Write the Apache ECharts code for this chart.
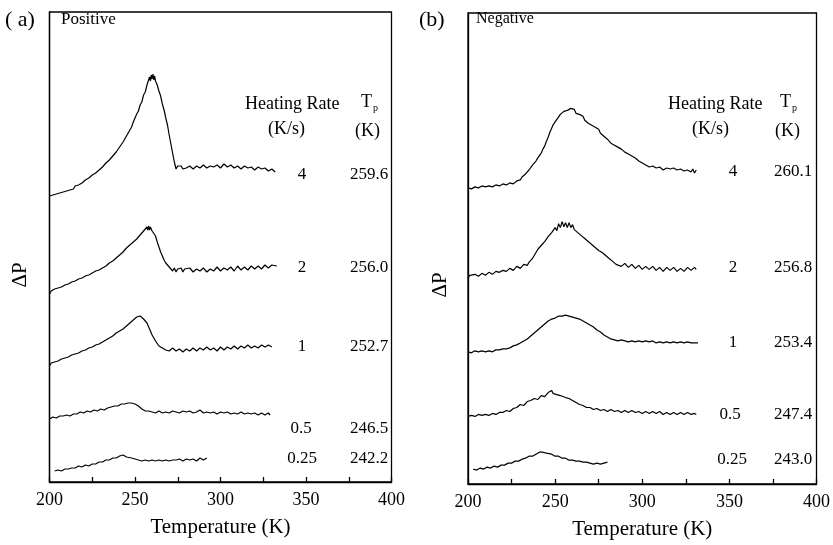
<!DOCTYPE html>
<html><head><meta charset="utf-8">
<script src="https://cdn.jsdelivr.net/npm/echarts@6/dist/echarts.min.js"></script>
<style>html,body{margin:0;padding:0;background:#fff}#c{width:833px;height:545px}</style>
</head><body><div id="c"></div>
<script>
// Panel (a) Positive: [Temperature (K), ΔP (arb. units, offset traces)]
var posRate4 = [[200,286],[201,288],[202,287],[203,289],[204,288],[205,290],[206,289],[207,291],[208,290],[209,292],[210,291],[211,293],[212,292],[213,294],[214,293],[215,296],[216,295],[217,297],[218,296],[219,299],[220,299],[221,302],[222,301],[223,304],[224,304],[225,307],[226,306],[227,309],[228,309],[229,312],[230,312],[231,315],[232,315],[233,319],[234,318],[235,322],[236,322],[237,326],[238,326],[239,330],[240,331],[241,335],[242,335],[243,340],[244,341],[245,346],[246,347],[247,352],[248,355],[249,360],[250,362],[251,368],[252,371],[253,377],[254,380],[255,387],[256,390],[257,397],[258,399],[258.5,405],[259,401],[259.5,407],[260,403],[260.5,408],[261,402],[261.5,406],[262,401],[263,397],[264,391],[265,386],[266,378],[267,372],[268,364],[269,357],[270,347],[271,338],[272,329],[273,320],[274,313],[275,316],[276,314],[277,316],[278,313],[279,315],[280,314],[282,316],[284,313],[286,316],[288,314],[290,317],[292,314],[294,316],[296,315],[298,317],[300,314],[302,318],[304,315],[306,317],[308,314],[310,316],[312,313],[314,316],[316,314],[318,315],[320,312],[322,315],[324,313],[326,314],[328,311],[330,313],[332,310]];
var posRate2 = [[200,188],[201,191],[202,189],[203,193],[204,191],[205,194],[206,192],[207,195],[208,194],[209,197],[210,195],[211,198],[212,197],[213,200],[214,198],[215,201],[216,200],[217,203],[218,201],[219,204],[220,203],[221,206],[222,204],[223,207],[224,206],[225,209],[226,208],[227,211],[228,209],[229,212],[230,211],[231,214],[232,213],[233,216],[234,215],[235,219],[236,217],[237,221],[238,220],[239,224],[240,222],[241,227],[242,226],[243,230],[244,229],[245,234],[246,232],[247,237],[248,235],[249,240],[250,239],[251,243],[252,242],[253,247],[254,246],[255,251],[256,250],[257,255],[257.5,252],[258,256],[258.5,252],[259,255],[260,251],[261,250],[262,246],[263,240],[264,235],[265,230],[266,226],[267,222],[268,219],[269,217],[270,215],[271,214],[272,211],[273,214],[274,210],[275,213],[276,211],[277,214],[278,210],[279,213],[280,211],[282,214],[284,210],[286,213],[288,211],[290,214],[292,210],[294,213],[296,211],[298,215],[300,211],[302,214],[304,212],[306,215],[308,211],[310,216],[312,212],[314,215],[316,212],[318,216],[320,213],[322,216],[324,213],[326,217],[328,214],[330,217],[333,216]];
var posRate1 = [[200,116],[201,119],[202,117],[203,120],[204,119],[205,121],[206,120],[207,123],[208,121],[209,124],[210,123],[211,125],[212,124],[213,127],[214,125],[215,128],[216,127],[217,129],[218,128],[219,131],[220,129],[221,132],[222,131],[223,134],[224,132],[225,135],[226,134],[227,137],[228,135],[229,138],[230,137],[231,140],[232,139],[233,142],[234,141],[235,144],[236,143],[237,146],[238,145],[239,149],[240,147],[241,151],[242,150],[243,153],[244,153],[245,156],[246,156],[247,159],[248,159],[249,162],[250,162],[251,165],[252,164],[253,166],[254,164],[255,163],[256,161],[257,159],[258,155],[259,151],[260,147],[261,144],[262,141],[263,139],[264,136],[265,137],[266,134],[267,135],[268,132],[269,134],[270,131],[272,134],[274,131],[276,133],[278,130],[280,133],[282,131],[284,134],[286,131],[288,134],[290,132],[292,135],[294,132],[296,134],[298,131],[300,135],[302,132],[304,135],[306,133],[308,136],[310,133],[312,136],[314,134],[316,137],[318,134],[320,136],[322,134],[324,137],[326,135],[328,137],[330,135]];
var posRate05 = [[200,63],[202,65],[204,64],[206,66],[208,66],[210,67],[212,66],[214,68],[216,68],[218,70],[220,69],[222,71],[224,70],[226,72],[228,71],[230,73],[232,72],[234,74],[236,75],[238,76],[240,76],[242,78],[244,78],[245,80],[246,79],[247,80],[248,79],[249,79],[250,78],[251,77],[252,76],[253,74],[254,73],[255,72],[256,71],[257,70],[258,71],[259,69],[260,70],[262,69],[264,71],[266,69],[268,70],[270,69],[272,71],[274,70],[276,69],[278,71],[280,70],[282,71],[284,69],[286,70],[288,72],[290,69],[292,70],[294,69],[296,70],[298,68],[300,70],[302,69],[304,70],[306,68],[308,69],[310,68],[312,70],[314,68],[316,69],[318,68],[320,69],[322,67],[324,69],[326,67],[328,69],[329,67]];
var posRate025 = [[203,11],[205,12],[207,11],[209,13],[211,13],[213,14],[215,14],[217,16],[219,15],[221,17],[223,16],[225,18],[227,18],[229,20],[231,20],[233,22],[235,22],[237,24],[239,24],[241,26],[242,26],[243,27],[244,26],[245,25],[246,25],[248,24],[250,23],[252,22],[254,21],[256,22],[258,21],[260,22],[262,21],[264,22],[266,21],[268,22],[270,21],[272,22],[274,22],[276,23],[278,21],[280,23],[282,22],[284,23],[286,21],[288,24],[290,22],[292,24]];

// Panel (b) Negative
var negRate4 = [[200,298],[202,297],[204,299],[206,298],[208,300],[210,299],[212,300],[214,299],[216,301],[218,300],[220,302],[222,301],[224,303],[226,302],[228,305],[230,306],[231,309],[232,308],[233,312],[234,313],[235,316],[236,318],[237,321],[238,323],[239,325],[240,328],[241,330],[242,333],[243,337],[244,340],[245,345],[246,349],[247,354],[248,358],[249,362],[250,364],[251,367],[252,369],[253,372],[254,373],[255,375],[256,374],[257,376],[258,377],[259,378],[260,376],[261,377],[262,373],[263,375],[264,372],[265,373],[266,370],[267,366],[268,367],[269,363],[270,363],[271,361],[272,362],[273,359],[274,358],[275,357],[276,353],[277,354],[278,350],[279,350],[280,347],[281,347],[282,343],[283,344],[284,341],[285,341],[286,339],[287,339],[288,337],[289,338],[290,334],[291,335],[292,332],[293,332],[294,330],[295,330],[296,328],[297,327],[298,325],[299,326],[300,323],[301,324],[302,321],[303,322],[304,319],[306,320],[308,318],[310,319],[312,316],[314,318],[316,317],[318,318],[320,316],[322,317],[324,315],[326,316],[328,314],[329,317],[330,313],[331,316]];
var negRate2 = [[200,207],[201,210],[202,208],[204,211],[206,209],[208,212],[210,210],[212,213],[214,211],[216,214],[218,213],[220,215],[222,214],[224,217],[226,215],[228,219],[230,217],[232,221],[234,220],[235,223],[236,225],[237,227],[238,230],[239,232],[240,236],[241,235],[242,240],[243,239],[244,244],[245,243],[246,249],[247,247],[248,253],[249,251],[250,258],[251,255],[252,262],[253,258],[254,264],[255,259],[256,263],[257,258],[258,263],[259,258],[260,261],[261,256],[262,258],[263,253],[264,255],[265,250],[266,252],[267,247],[268,249],[269,244],[270,246],[271,241],[272,243],[273,238],[274,240],[275,235],[276,237],[277,233],[278,234],[279,230],[280,231],[281,227],[282,228],[283,224],[284,225],[285,221],[286,223],[288,219],[290,222],[292,218],[294,221],[296,217],[298,220],[300,216],[302,219],[304,216],[306,219],[308,215],[310,218],[312,214],[314,218],[316,215],[318,218],[320,214],[322,217],[324,214],[326,218],[328,215],[330,218],[331,216]];
var negRate1 = [[200,133],[202,132],[204,134],[206,133],[208,134],[210,133],[212,134],[214,133],[216,135],[218,135],[220,136],[222,136],[224,137],[226,139],[228,140],[230,142],[232,144],[234,146],[236,149],[238,152],[240,155],[242,158],[244,161],[246,164],[248,166],[250,167],[252,169],[254,169],[256,170],[258,169],[260,168],[262,167],[264,166],[266,164],[268,162],[270,160],[272,158],[274,155],[276,153],[278,150],[280,148],[282,146],[284,145],[286,144],[288,145],[290,144],[292,143],[294,144],[296,143],[298,144],[300,143],[302,144],[304,143],[306,144],[308,142],[310,143],[312,142],[314,143],[316,142],[318,143],[320,142],[322,143],[324,142],[326,143],[328,142],[330,142],[332,142]];
var negRate05 = [[200,68],[202,69],[204,68],[206,70],[208,69],[210,70],[212,69],[214,71],[216,70],[218,72],[220,72],[222,74],[224,73],[226,76],[228,77],[230,80],[232,79],[234,83],[236,84],[238,86],[240,85],[242,89],[244,88],[246,92],[247,90],[248,94],[249,91],[250,93],[251,90],[252,92],[253,89],[254,90],[256,87],[258,86],[260,84],[262,82],[264,80],[266,79],[268,77],[270,77],[272,75],[274,76],[276,74],[278,75],[280,73],[282,75],[284,73],[286,74],[288,72],[290,74],[292,72],[294,74],[296,72],[298,73],[300,71],[302,73],[304,71],[306,73],[308,71],[310,73],[312,70],[314,72],[316,70],[318,72],[320,70],[322,72],[324,70],[326,72],[328,70],[330,71],[331,70]];
var negRate025 = [[203,15],[205,14],[207,16],[209,15],[211,17],[213,16],[215,18],[217,17],[219,19],[221,19],[223,21],[225,21],[227,23],[229,23],[231,25],[233,26],[235,28],[237,28],[239,30],[240,29],[241,32],[242,30],[243,32],[244,30],[245,31],[246,29],[248,30],[250,28],[252,28],[254,26],[256,26],[258,24],[260,24],[262,23],[264,23],[266,22],[268,22],[270,21],[272,20],[274,21],[276,20],[278,21],[280,22]];

var rateLabels = ['4','2','1','0.5','0.25'];
var posTp = ['259.6','256.0','252.7','246.5','242.2'];
var negTp = ['260.1','256.8','253.4','247.4','243.0'];
var xTicks = [200, 250, 300, 350, 400];

var FONT = '"Liberation Serif","DejaVu Serif",serif';
var chart = echarts.init(document.getElementById('c'), null, {renderer:'canvas'});

function xAx(gi){
  return {
    gridIndex: gi, type:'value', min: xTicks[0], max: xTicks[xTicks.length-1], interval: 50,
    name: 'Temperature (K)', nameLocation:'middle', nameGap: 35,
    nameTextStyle:{fontFamily:FONT, fontSize:21, color:'#000'},
    axisLine:{show:true, lineStyle:{color:'#000', width:1.3}},
    axisTick:{show:true, inside:true, length:5, lineStyle:{color:'#000', width:1.3}},
    minorTick:{show:true, splitNumber:2, length:5, lineStyle:{color:'#000', width:1.3}},
    axisLabel:{fontFamily:FONT, fontSize:18, color:'#000', margin:9},
    splitLine:{show:false}
  };
}
function yAx(gi, max){
  return {
    gridIndex: gi, type:'value', min:0, max:max,
    axisLine:{show:true, lineStyle:{color:'#000', width:1.3}},
    axisTick:{show:false}, axisLabel:{show:false}, splitLine:{show:false}
  };
}
function ln(data, xi){
  return {type:'line', xAxisIndex:xi, yAxisIndex:xi, data:data, showSymbol:false, symbol:'none',
    lineStyle:{color:'#000', width:1.2}, animation:false, silent:true};
}
function t(x, y, s, size, align){
  return {type:'text', x:x, y:y, style:{text:s, font:size+'px '+FONT, fill:'#000', textAlign:align||'left', textVerticalAlign:'middle'}};
}
function tp(x, y){
  return {type:'text', x:x, y:y, style:{rich:{a:{fontFamily:FONT, fontSize:18, color:'#000'}, s:{fontFamily:FONT, fontSize:10, color:'#000', padding:[12,0,0,1]}}, text:'{a|T}{s|p}', textVerticalAlign:'middle'}};
}

var graphics = [];
graphics.push(t(5, 20, '( a)', 22));
graphics.push(t(61, 20, 'Positive', 17));
graphics.push(t(419, 20, '(b)', 22));
graphics.push(t(476, 19, 'Negative', 16));
graphics.push({type:'text', x:20, y:275, rotation:Math.PI/2, style:{text:'ΔP', font:'21px '+FONT, fill:'#000', textAlign:'center', textVerticalAlign:'middle'}});
graphics.push({type:'text', x:440, y:285, rotation:Math.PI/2, style:{text:'ΔP', font:'21px '+FONT, fill:'#000', textAlign:'center', textVerticalAlign:'middle'}});
// headers
graphics.push(t(245, 104, 'Heating Rate', 18));
graphics.push(t(268, 129, '(K/s)', 18));
graphics.push(tp(361, 102));
graphics.push(t(355, 131, '(K)', 18));
graphics.push(t(668, 104, 'Heating Rate', 18));
graphics.push(t(692, 129, '(K/s)', 18));
graphics.push(tp(780, 102));
graphics.push(t(775, 131, '(K)', 18));

var posY = [175, 268, 347, 429, 459];
var negY = [172, 268, 343, 415, 460];
var posRateX = [302, 302, 302, 301, 302];
var negRateX = [733, 733, 733, 730, 732];
for (var i=0;i<5;i++){
  graphics.push(t(posRateX[i], posY[i], rateLabels[i], 17, 'center'));
  graphics.push(t(369, posY[i], posTp[i], 17, 'center'));
  graphics.push(t(negRateX[i], negY[i], rateLabels[i], 17, 'center'));
  graphics.push(t(793, negY[i], negTp[i], 17, 'center'));
}

chart.setOption({
  backgroundColor:'#fff',
  animation:false,
  grid:[
    {left:49.5, top:12, width:342, height:470, show:true, borderColor:'#000', borderWidth:1.3, backgroundColor:'transparent'},
    {left:468, top:13, width:350, height:474, show:true, borderColor:'#000', borderWidth:1.3, backgroundColor:'transparent'}
  ],
  xAxis:[xAx(0), xAx(1)],
  yAxis:[yAx(0, 470), yAx(1, 474)],
  series:[
    ln(posRate4,0), ln(posRate2,0), ln(posRate1,0), ln(posRate05,0), ln(posRate025,0),
    ln(negRate4,1), ln(negRate2,1), ln(negRate1,1), ln(negRate05,1), ln(negRate025,1)
  ],
  graphic: graphics
});
</script></body></html>
